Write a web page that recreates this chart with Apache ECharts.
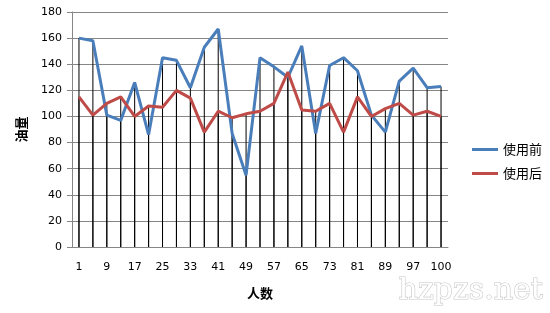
<!DOCTYPE html>
<html><head><meta charset="utf-8">
<script src="https://cdn.jsdelivr.net/npm/echarts@6/dist/echarts.min.js"></script>
<style>html,body{margin:0;padding:0;background:#fff}#c{width:550px;height:313px}</style>
</head><body><div id="c"></div>
<script>
const categories = ['1','5','9','13','17','21','25','29','33','37','41','45','49','53','57','61','65','69','73','77','81','85','89','93','97','99','100'];
const before = [160,158,101,97,126,86,145,143,122,153,167,87,55,145,138,130,154,87,139,145,135,101,88,127,137,122,123];
const after  = [115,101,110,115,100,108,107,120,114,88,104,99,102,104,110,134,105,104,110,88,115,100,106,110,101,104,100];
const yTicks = [0,20,40,60,80,100,120,140,160,180];
const seriesNames = ['使用前','使用后'];

const chart = echarts.init(document.getElementById('c'));
const labelFont = {fontFamily:'DejaVu Sans', fontSize:11, color:'#000'};
chart.setOption({
  animation:false,
  backgroundColor:'#fff',
  grid:{left:72, right:102, top:12, bottom:66},
  legend:{
    orient:'vertical', left:467, top:137, itemGap:9,
    itemWidth:26, itemHeight:3,
    textStyle:{fontFamily:'Noto Sans CJK SC', fontSize:13, color:'#000', lineHeight:15},
    data:[{name:seriesNames[0], icon:'rect'},{name:seriesNames[1], icon:'rect'}]
  },
  xAxis:{
    type:'category', data:categories, boundaryGap:true,
    name:'人数', nameLocation:'middle', nameGap:40,
    nameTextStyle:{fontFamily:'Noto Sans CJK SC', fontSize:13, fontWeight:'bold', color:'#000'},
    axisLine:{lineStyle:{color:'#868686', width:1}},
    axisTick:{show:false},
    axisLabel:Object.assign({interval:1, margin:15}, labelFont),
    splitLine:{show:false}
  },
  yAxis:{
    type:'value', min:yTicks[0], max:yTicks[yTicks.length-1], interval:20,
    name:'油量', nameLocation:'middle', nameGap:44, nameRotate:90,
    nameTextStyle:{fontFamily:'Noto Sans CJK SC', fontSize:13, fontWeight:'bold', color:'#000'},
    axisLine:{show:true, lineStyle:{color:'#868686', width:1}},
    axisTick:{show:true, length:5, lineStyle:{color:'#868686'}},
    axisLabel:Object.assign({margin:10}, labelFont),
    splitLine:{lineStyle:{color:'#868686', width:1}}
  },
  graphic:[{
    type:'text', left:398, top:276, silent:true,
    style:{text:'hzpzs.net', font:'30px "DejaVu Serif"', fill:'#fff', stroke:'#c8c8c8', lineWidth:1.2}
  }],
  series:[
    {type:'bar', data:before, barWidth:1, barGap:'-100%', itemStyle:{color:'#000'}, silent:true, z:1, legendHoverLink:false},
    {type:'bar', data:after, barWidth:1, barGap:'-100%', itemStyle:{color:'#000'}, silent:true, z:1, legendHoverLink:false},
    {name:seriesNames[0], type:'line', data:before, symbol:'none', z:3,
     lineStyle:{color:'#4A7EBB', width:3}, itemStyle:{color:'#4A7EBB'}},
    {name:seriesNames[1], type:'line', data:after, symbol:'none', z:3,
     lineStyle:{color:'#BE4B48', width:3}, itemStyle:{color:'#BE4B48'}}
  ]
});
</script></body></html>
